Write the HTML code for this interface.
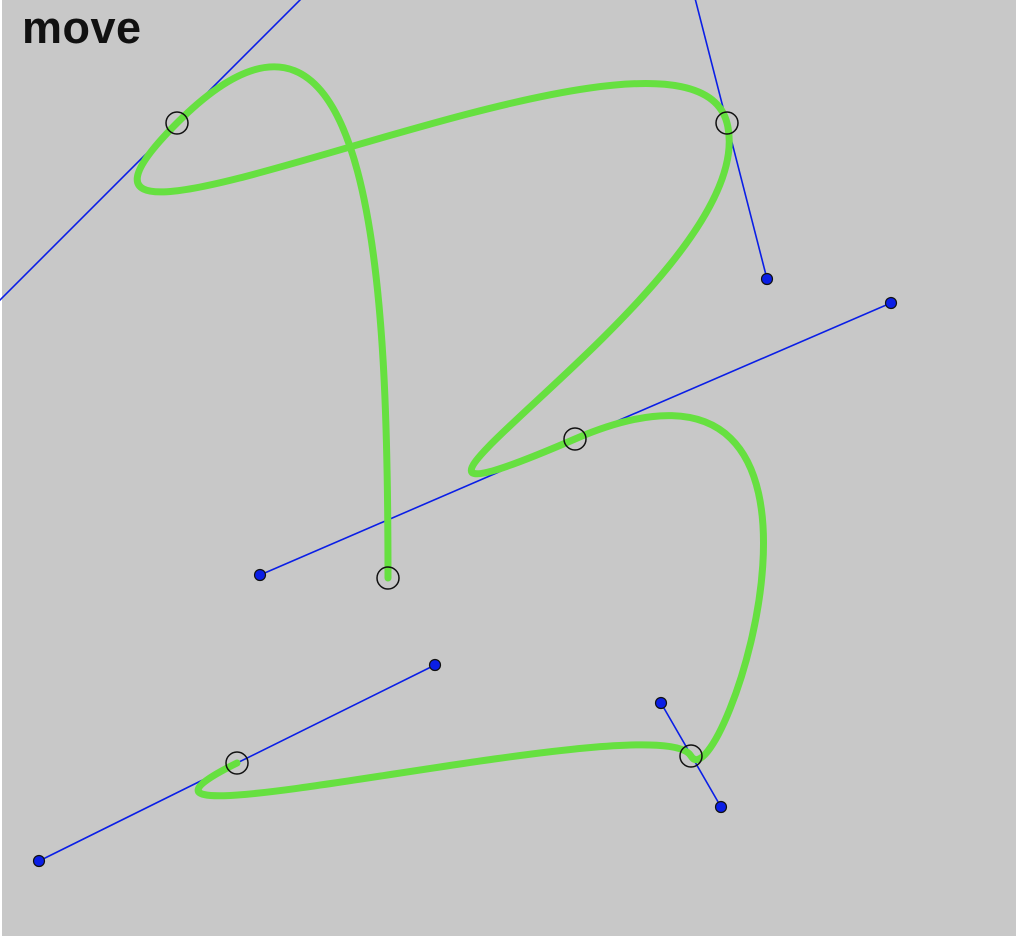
<!DOCTYPE html>
<html><head><meta charset="utf-8"><style>
html,body{margin:0;padding:0;background:#fff;}
#wrap{position:relative;width:1016px;height:936px;overflow:hidden;}
svg{position:absolute;left:0;top:0;}
#title{position:absolute;left:22px;top:2px;font:bold 45px "Liberation Sans",sans-serif;color:#111;letter-spacing:0.5px;}
</style></head><body>
<div id="wrap">
<svg id="svg" width="1016" height="936">
<rect x="2" y="0" width="1014" height="936" fill="#c8c8c8"/>
</svg>
<div id="title">move</div>
</div>
<script>
const anchorsX=[388,177,727,575,691,237];
const anchorsY=[578,123,123,439,756,763];
const handleInX=[388,377,687,260,721,39];
const handleInY=[578,-77,-33,575,807,861];
const handleOutX=[388,-38,767,891,661,435];
const handleOutY=[300,338,279,303,703,665];
const ns="http://www.w3.org/2000/svg";
const svg=document.getElementById('svg');
function mk(t,a){const e=document.createElementNS(ns,t);for(const k in a)e.setAttribute(k,a[k]);svg.appendChild(e);return e;}
for(let i=1;i<anchorsX.length;i++){
  const l=mk('line',{x1:handleInX[i],y1:handleInY[i],x2:handleOutX[i],y2:handleOutY[i],stroke:'#0a1ee6','stroke-width':1.6});
  
  
}
let d='M'+anchorsX[0]+','+anchorsY[0];
for(let i=1;i<anchorsX.length;i++){
  d+=' C'+handleOutX[i-1]+','+handleOutY[i-1]+' '+handleInX[i]+','+handleInY[i]+' '+anchorsX[i]+','+anchorsY[i];
}
const p=mk('path',{d:d,fill:'none',stroke:'#66e040','stroke-width':7,'stroke-linecap':'round'});


for(let i=0;i<anchorsX.length;i++){
  const c=mk('circle',{cx:anchorsX[i],cy:anchorsY[i],r:11,fill:'none',stroke:'#111','stroke-width':1.5});
  
  
}
for(let i=1;i<anchorsX.length;i++){
  [[handleInX[i],handleInY[i]],[handleOutX[i],handleOutY[i]]].forEach(h=>{
    const c=mk('circle',{cx:h[0],cy:h[1],r:5.5,fill:'#0a1ee6',stroke:'#111','stroke-width':1.2});
    
    
  });
}
</script>
</body></html>
